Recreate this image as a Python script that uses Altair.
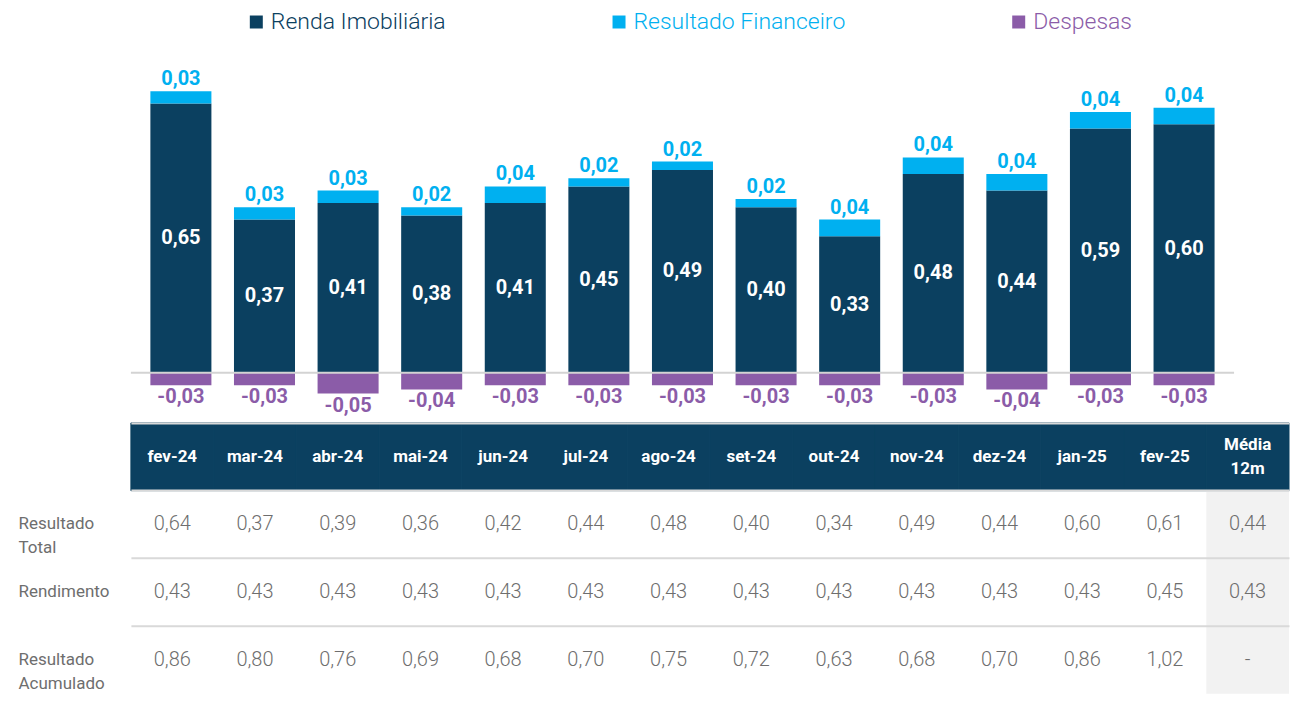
import altair as alt
import pandas as pd

# ---------------- data ----------------
months = ["fev-24", "mar-24", "abr-24", "mai-24", "jun-24", "jul-24", "ago-24",
          "set-24", "out-24", "nov-24", "dez-24", "jan-25", "fev-25"]
renda = [0.65, 0.37, 0.41, 0.38, 0.41, 0.45, 0.49, 0.40, 0.33, 0.48, 0.44, 0.59, 0.60]
financeiro = [0.03, 0.03, 0.03, 0.02, 0.04, 0.02, 0.02, 0.02, 0.04, 0.04, 0.04, 0.04, 0.04]
despesas = [-0.03, -0.03, -0.05, -0.04, -0.03, -0.03, -0.03, -0.03, -0.03, -0.03, -0.04, -0.03, -0.03]

series_names = ["Renda Imobiliária", "Resultado Financeiro", "Despesas"]
series_colors = ["#0B4060", "#00B0F0", "#8B5CA8"]

media_col = "Média\n12m"
row_names = ["Resultado Total", "Rendimento", "Resultado Acumulado"]
resultado_total = [0.64, 0.37, 0.39, 0.36, 0.42, 0.44, 0.48, 0.40, 0.34, 0.49, 0.44, 0.60, 0.61]
rendimento = [0.43, 0.43, 0.43, 0.43, 0.43, 0.43, 0.43, 0.43, 0.43, 0.43, 0.43, 0.43, 0.45]
resultado_acumulado = [0.86, 0.80, 0.76, 0.69, 0.68, 0.70, 0.75, 0.72, 0.63, 0.68, 0.70, 0.86, 1.02]
media_12m = [0.44, 0.43, None]

HEADER = "H"
DARK, LIGHT, PURPLE = series_colors
GRAY_TXT = "#6E6E6E"
FONT = "Roboto"


def fmt(v):
    return "-" if v is None else f"{v:.2f}".replace(".", ",")


# ---------------- bar data ----------------
bar_rows = []
for i, m in enumerate(months):
    bar_rows.append(dict(month=m, series=series_names[0], start=0.0, end=renda[i]))
    bar_rows.append(dict(month=m, series=series_names[1], start=renda[i], end=renda[i] + financeiro[i]))
    bar_rows.append(dict(month=m, series=series_names[2], start=0.0, end=despesas[i]))
bar_df = pd.DataFrame(bar_rows)

lab_df = pd.DataFrame(dict(month=months, renda=renda, fin=financeiro, desp=despesas))
lab_df["mid"] = lab_df["renda"] / 2
lab_df["top"] = lab_df["renda"] + lab_df["fin"]
lab_df["t_renda"] = [fmt(v) for v in renda]
lab_df["t_fin"] = [fmt(v) for v in financeiro]
lab_df["t_desp"] = [fmt(v) for v in despesas]

zero_df = pd.DataFrame(dict(zero=[0.0]))

xscale = alt.Scale(domain=months, paddingInner=0.27, paddingOuter=0.233)
yscale = alt.Scale(domain=[-0.104, 0.774], nice=False, zero=False)

x_enc = alt.X("month:N", sort=months, scale=xscale, axis=None)

legend_color_expr = (
    f"datum.value === '{series_names[0]}' ? '{DARK}' : "
    f"datum.value === '{series_names[1]}' ? '{LIGHT}' : '{PURPLE}'"
)

bars = alt.Chart(bar_df).mark_bar().encode(
    x=x_enc,
    y=alt.Y("start:Q", scale=yscale, axis=None),
    y2="end:Q",
    color=alt.Color(
        "series:N",
        scale=alt.Scale(domain=series_names, range=series_colors),
        legend=alt.Legend(
            orient="none", legendX=114, legendY=-42, direction="horizontal",
            title=None, symbolType="square", symbolSize=169,
            labelFont=FONT, labelFontSize=23, labelFontWeight=300,
            labelColor={"expr": legend_color_expr}, labelLimit=400,
            labelOffset=3, columnPadding=161,
        ),
    ),
)

zero_rule = alt.Chart(zero_df).mark_rule(color="#D3D3D3", strokeWidth=2).encode(
    y=alt.Y("zero:Q", scale=yscale, axis=None)
)

t_renda = alt.Chart(lab_df).mark_text(
    font=FONT, fontSize=20, fontWeight="bold", color="white", baseline="middle"
).encode(x=x_enc, y=alt.Y("mid:Q", scale=yscale, axis=None), text="t_renda:N")

t_fin = alt.Chart(lab_df).mark_text(
    font=FONT, fontSize=20, fontWeight="bold", color=LIGHT, baseline="bottom", dy=-2
).encode(x=x_enc, y=alt.Y("top:Q", scale=yscale, axis=None), text="t_fin:N")

t_desp = alt.Chart(lab_df).mark_text(
    font=FONT, fontSize=20, fontWeight="bold", color=PURPLE, baseline="middle", dy=12
).encode(x=x_enc, y=alt.Y("desp:Q", scale=yscale, axis=None), text="t_desp:N")

bar_chart = alt.layer(bars, zero_rule, t_renda, t_fin, t_desp).properties(width=1104, height=364)

# ---------------- table data ----------------
cols = months + [media_col]
row_domain = [HEADER] + row_names

head_df = pd.DataFrame(dict(row=[HEADER] * len(cols), col=cols, txt=cols))
head_months_df = pd.DataFrame(dict(row=[HEADER] * len(months), col=months, txt=months))
head_media_df = pd.DataFrame(dict(row=[HEADER], col=[media_col], txt=[media_col]))
body_rows = []
for name, vals, med in zip(row_names, [resultado_total, rendimento, resultado_acumulado], media_12m):
    for m, v in zip(months, vals):
        body_rows.append(dict(row=name, col=m, txt=fmt(v)))
    body_rows.append(dict(row=name, col=media_col, txt=fmt(med)))
body_df = pd.DataFrame(body_rows)
media_df = pd.DataFrame(dict(row=row_names, col=[media_col] * len(row_names)))

tx = alt.X("col:N", sort=cols, scale=alt.Scale(domain=cols, paddingInner=0, paddingOuter=0), axis=None)
yscale_t = alt.Scale(domain=row_domain, paddingInner=0, paddingOuter=0)
ty = alt.Y(
    "row:N", sort=row_domain, scale=yscale_t,
    axis=alt.Axis(
        title=None, domain=False, ticks=False,
        labelAlign="left", labelPadding=113, labelBaseline="middle",
        labelFont=FONT, labelFontSize=17, labelColor=GRAY_TXT, labelLineHeight=24,
        labelExpr=f"datum.value === '{HEADER}' ? '' : split(datum.value, ' ')",
        grid=True, gridColor="#D9D9D9", gridWidth=2, bandPosition=0,
    ),
)

head_rect = alt.Chart(head_df).mark_rect(color=DARK, stroke=DARK, strokeWidth=1).encode(x=tx, y=ty)
media_rect = alt.Chart(media_df).mark_rect(color="#E6E6E6", opacity=0.5).encode(x=tx, y=ty)

head_txt = alt.Chart(head_months_df).mark_text(
    font=FONT, fontSize=17, fontWeight="bold", color="white"
).encode(x=tx, y=ty, text="txt:N")

head_media_txt = alt.Chart(head_media_df).mark_text(
    font=FONT, fontSize=17, fontWeight="bold", color="white", lineBreak="\n", lineHeight=24, dy=-12
).encode(x=tx, y=ty, text="txt:N")

body_txt = alt.Chart(body_df).mark_text(
    font=FONT, fontSize=20, fontWeight=300, color=GRAY_TXT
).encode(x=tx, y=ty, text="txt:N")

table_chart = alt.layer(head_rect, media_rect, head_txt, head_media_txt, body_txt).properties(
    width=1159, height=271
)

chart = alt.vconcat(bar_chart, table_chart, spacing=6).properties(
    padding={"left": 10, "top": 2, "right": 0, "bottom": 0}
).configure_view(stroke=None)

chart.save("out.html", embed_options={"renderer": "svg", "actions": False})
